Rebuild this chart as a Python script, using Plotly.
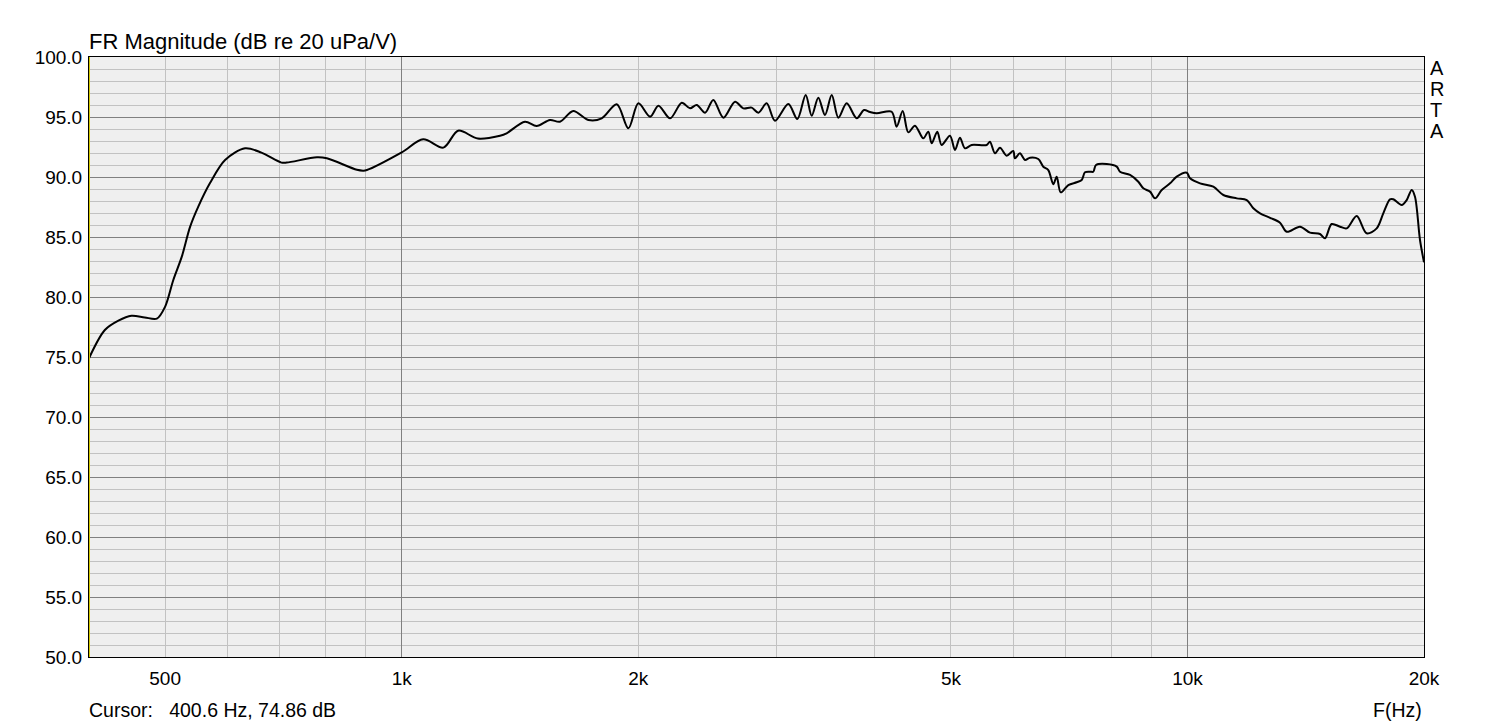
import plotly.graph_objects as go
import math

# Frequency response (Hz, dB)
freq_hz = [400, 419, 436, 453, 471, 488, 500, 512, 525, 538, 551, 570, 596, 632, 663,
           703, 714, 780, 803, 877, 894, 903, 1000, 1065, 1130, 1180, 1250, 1334, 1360,
           1435, 1485, 1544, 1590, 1653, 1728, 1797, 1878, 1943, 2001, 2071, 2122, 2196,
           2272, 2328, 2374, 2433, 2492, 2567, 2656, 2721, 2789, 2844, 2914, 2986, 3105,
           3188, 3267, 3325, 3390, 3457, 3526, 3595, 3684, 3794, 3876, 3944, 4022, 4203,
           4265, 4341, 4413, 4500, 4611, 4679, 4726, 4804, 4866, 4986, 5060, 5134, 5210,
           5313, 5553, 5606, 5689, 5773, 5887, 6002, 6032, 6121, 6212, 6304, 6459, 6554,
           6651, 6750, 6817, 6898, 7053, 7228, 7335, 7406, 7516, 7589, 7649, 7893, 8128,
           8206, 8451, 8659, 8787, 8961, 9094, 9274, 9502, 9690, 9979, 10076, 10376, 10788,
           11110, 11554, 11898, 12130, 12371, 12740, 13116, 13376, 13906, 14320, 14746,
           14964, 15260, 15636, 15946, 16420, 16908, 17411, 17751, 18103, 18279, 18734,
           19011, 19292, 19479, 19767, 20000]
mag_db = [74.9, 77.25, 78.03, 78.44, 78.3, 78.2, 79.2, 81.4, 83.36, 85.86, 87.53, 89.47,
          91.42, 92.39, 92.03, 91.2, 91.2, 91.64, 91.56, 90.6, 90.53, 90.58, 92.05, 93.14,
          92.45, 93.86, 93.2, 93.44, 93.64, 94.61, 94.25, 94.75, 94.61, 95.5, 94.75, 94.89,
          96.06, 94.06, 96.14, 95.03, 95.94, 94.89, 96.19, 95.72, 96.0, 95.36, 96.42, 94.94,
          96.28, 95.72, 95.78, 95.36, 96.14, 94.69, 96.08, 94.83, 96.83, 95.11, 96.61, 95.17,
          96.83, 94.94, 96.14, 94.89, 95.58, 95.42, 95.31, 95.44, 94.19, 95.5, 93.72, 94.28,
          93.22, 93.78, 92.81, 93.78, 92.67, 93.44, 92.25, 93.28, 92.39, 92.67, 92.67, 92.94,
          91.97, 92.44, 91.78, 92.17, 91.56, 91.97, 91.42, 91.61, 91.5, 90.86, 90.58, 89.39,
          90.03, 88.72, 89.33, 89.56, 89.75, 90.39, 90.44, 90.44, 91.0, 91.08, 90.86, 90.44,
          90.17, 89.61, 89.06, 88.78, 88.22, 88.92, 89.47, 90.03, 90.36, 89.89, 89.47, 89.19,
          88.5, 88.22, 88.08, 87.39, 86.97, 86.6, 86.19, 85.44, 85.86, 85.36, 85.25, 84.89,
          86.08, 85.86, 85.72, 86.75, 85.31, 85.72, 86.97, 88.14, 88.14, 87.67, 88.08, 88.92,
          88.36, 84.75, 82.9]

x_tick_vals = [500, 1000, 2000, 5000, 10000, 20000]
x_tick_text = ["500", "1k", "2k", "5k", "10k", "20k"]
x_minor_grid = [500, 600, 700, 800, 900, 2000, 3000, 4000, 5000, 6000, 7000, 8000, 9000]
x_major_grid = [1000, 10000]
x_range_hz = [400, 20000]
y_range_db = [50, 100]
cursor_freq = 400.6
cursor_text = "Cursor:   400.6 Hz, 74.86 dB"
title_text = "FR Magnitude (dB re 20 uPa/V)"
x_label = "F(Hz)"
brand_letters = ["A", "R", "T", "A"]

FONT = "Liberation Sans, Arial, sans-serif"
MAJOR = "#808080"
MINOR = "#c2c2c2"

fig = go.Figure()
fig.add_trace(go.Scatter(x=freq_hz, y=mag_db, mode="lines",
                         line=dict(color="black", width=2, shape="spline", smoothing=0.9),
                         xaxis="x", yaxis="y", showlegend=False, hoverinfo="skip"))

xr = [math.log10(x_range_hz[0]), math.log10(x_range_hz[1])]
fig.update_layout(
    width=1512, height=726,
    margin=dict(l=81, r=96, t=49, b=77),
    paper_bgcolor="white", plot_bgcolor="#efefef",
    font=dict(family=FONT, size=19, color="black"),
    xaxis=dict(type="log", range=xr, tickvals=x_major_grid, showticklabels=False,
               showgrid=True, gridcolor=MAJOR, gridwidth=1, zeroline=False,
               showline=True, linecolor="black", linewidth=1, mirror=True, ticks="",
               minor=dict(tickvals=x_minor_grid, showgrid=True, gridcolor=MINOR, gridwidth=1, ticks="")),
    xaxis2=dict(type="log", range=xr, overlaying="x", side="bottom", anchor="y",
                tickvals=x_tick_vals, ticktext=x_tick_text, showgrid=False, zeroline=False,
                ticks="outside", ticklen=4, tickcolor="rgba(0,0,0,0)",
                tickfont=dict(family=FONT, size=19)),
    yaxis=dict(range=y_range_db, dtick=5, tick0=50, tickformat=".1f",
               showgrid=True, gridcolor=MAJOR, gridwidth=1, zeroline=False,
               showline=True, linecolor="black", linewidth=1, mirror=True,
               ticks="outside", ticklen=2, tickcolor="rgba(0,0,0,0)",
               tickfont=dict(family=FONT, size=19),
               minor=dict(dtick=1, showgrid=True, gridcolor=MINOR, gridwidth=1, ticks="")),
)
# invisible trace to activate xaxis2 (tick labels)
fig.add_trace(go.Scatter(x=[x_range_hz[0]], y=[y_range_db[0]], xaxis="x2", yaxis="y",
                         mode="markers", marker=dict(opacity=0), showlegend=False, hoverinfo="skip"))

fig.add_shape(type="line", xref="x", yref="paper", x0=cursor_freq, x1=cursor_freq, y0=0, y1=1,
              line=dict(color="#d4c800", width=1), layer="above")

fig.add_annotation(text=title_text, xref="paper", yref="paper",
                   x=0.0, y=1.0, xanchor="left", yanchor="bottom", xshift=-2, yshift=1, showarrow=False,
                   font=dict(family=FONT, size=22))
for i, letter in enumerate(brand_letters):
    fig.add_annotation(text=letter, xref="paper", yref="paper", x=1.0, y=1.0,
                       xanchor="left", yanchor="middle", xshift=4, yshift=-11 - 21 * i,
                       showarrow=False, font=dict(family=FONT, size=20))
fig.add_annotation(text=cursor_text, xref="paper", yref="paper", x=0.0, y=0.0,
                   xanchor="left", yanchor="middle", xshift=-2, yshift=-53, showarrow=False,
                   font=dict(family=FONT, size=19.5))
fig.add_annotation(text=x_label, xref="paper", yref="paper", x=1.0, y=0.0,
                   xanchor="right", yanchor="middle", xshift=0, yshift=-53, showarrow=False,
                   font=dict(family=FONT, size=19.5))

fig.write_html("out.html")
